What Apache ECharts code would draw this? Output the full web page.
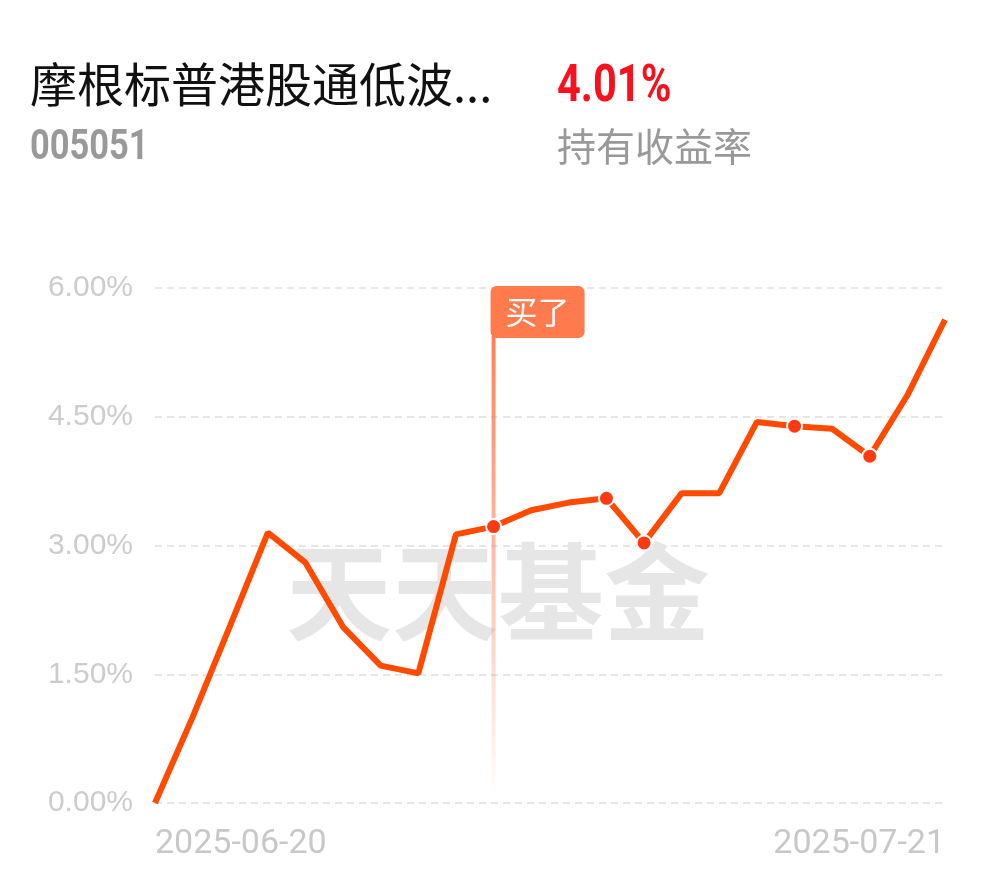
<!DOCTYPE html>
<html>
<head>
<meta charset="utf-8">
<script src="https://cdn.jsdelivr.net/npm/echarts@6/dist/echarts.min.js"></script>
<style>
html,body{margin:0;padding:0;background:#fff;}
#c{width:990px;height:878px;}
</style>
</head>
<body>
<div id="c"></div>
<script>
var dates = ['2025-06-20','2025-06-23','2025-06-24','2025-06-25','2025-06-26','2025-06-27','2025-06-30','2025-07-01','2025-07-02','2025-07-03','2025-07-04','2025-07-07','2025-07-08','2025-07-09','2025-07-10','2025-07-11','2025-07-14','2025-07-15','2025-07-16','2025-07-17','2025-07-18','2025-07-21'];
var returns = [0.00,1.00,2.07,3.15,2.80,2.05,1.60,1.51,3.13,3.22,3.41,3.50,3.55,3.03,3.61,3.61,4.44,4.39,4.36,4.04,4.75,5.63];
var dotIndices = [9,12,13,17,19];
var buyIndex = 9;
var yTicks = [0, 1.5, 3, 4.5, 6];
var fundName = '摩根标普港股通低波...';
var fundCode = '005051';
var holdReturn = '4.01%';
var holdLabel = '持有收益率';
var buyLabel = '买了';
var watermark = '天天基金';

var chart = echarts.init(document.getElementById('c'));
var seriesData = returns.map(function(v, i){
  if (dotIndices.indexOf(i) >= 0) {
    return {value: v, symbol: 'circle', symbolSize: 15,
      itemStyle: {color: '#ff3a10', borderColor: '#fff', borderWidth: 2}};
  }
  return {value: v, symbol: 'none'};
});

var option = {
  animation: false,
  backgroundColor: '#fff',
  grid: {left: 155, right: 45, top: 288, bottom: 75},
  graphic: [
    {type: 'text', left: 30, top: 61, z: 10, style: {text: fundName, font: '47px "Noto Sans CJK SC"', fill: '#111'}},
    {type: 'text', x: 557, y: 62, scaleX: 0.8, z: 10, style: {text: holdReturn, font: 'bold 52px Roboto', fill: '#f5121e'}},
    {type: 'text', x: 30, y: 127, scaleX: 0.82, z: 10, style: {text: fundCode, font: 'bold 42px Roboto', fill: '#999'}},
    {type: 'text', left: 557, top: 127, z: 10, style: {text: holdLabel, font: '39px "Noto Sans CJK SC"', fill: '#999'}},
    {type: 'text', left: 286, top: 539, z: -1, silent: true, style: {text: watermark, font: 'bold 106px "Noto Sans CJK SC"', fill: '#e6e6e6'}}
  ],
  xAxis: {
    type: 'category',
    data: dates,
    boundaryGap: false,
    axisLine: {show: false},
    axisTick: {show: false},
    splitLine: {show: false},
    axisLabel: {
      interval: 0,
      margin: 24,
      color: '#c8c8c8',
      fontSize: 34,
      fontFamily: 'Roboto',
      alignMinLabel: 'left',
      alignMaxLabel: 'right',
      formatter: function(v, i){ return (i === 0 || i === dates.length - 1) ? v : ''; }
    }
  },
  yAxis: {
    type: 'value',
    min: yTicks[0],
    max: yTicks[yTicks.length - 1],
    interval: 1.5,
    axisLine: {show: false},
    axisTick: {show: false},
    axisLabel: {
      margin: 22,
      color: '#cccccc',
      fontSize: 30,
      fontFamily: '"Liberation Sans", Arial',
      formatter: function(v){ return v.toFixed(2) + '%'; }
    },
    splitLine: {show: true, lineStyle: {color: '#e6e6e6', width: 2, type: [7, 5]}}
  },
  series: [{
    type: 'line',
    data: seriesData,
    z: 5,
    lineStyle: {color: '#ff4a00', width: 6},
    itemStyle: {color: '#ff3a10'},
    showAllSymbol: true
  }]
};
chart.setOption(option);

var xPx = chart.convertToPixel({xAxisIndex: 0}, buyIndex);
var topPx = chart.convertToPixel({yAxisIndex: 0}, yTicks[yTicks.length - 1]);
var botPx = chart.convertToPixel({yAxisIndex: 0}, yTicks[0]);
var g = option.graphic.slice();
g.push({type: 'rect', z: 3, silent: true,
  shape: {x: xPx - 2, y: topPx + 48, width: 4, height: (botPx - 6) - (topPx + 48)},
  style: {fill: new echarts.graphic.LinearGradient(0, 0, 0, 1, [
    {offset: 0, color: 'rgba(255,122,76,0.95)'},
    {offset: 1, color: 'rgba(255,122,76,0.0)'}
  ])}});
g.push({type: 'rect', z: 6, silent: true,
  shape: {x: xPx - 3, y: topPx - 2, width: 94, height: 52, r: 6},
  style: {fill: '#ff7a4c'}});
g.push({type: 'text', z: 7, silent: true, x: xPx - 3 + 47, y: topPx + 24,
  style: {text: buyLabel, font: '32px "Noto Sans CJK SC"', fill: '#fff', align: 'center', verticalAlign: 'middle'}});
chart.setOption({graphic: g});
</script>
</body>
</html>
